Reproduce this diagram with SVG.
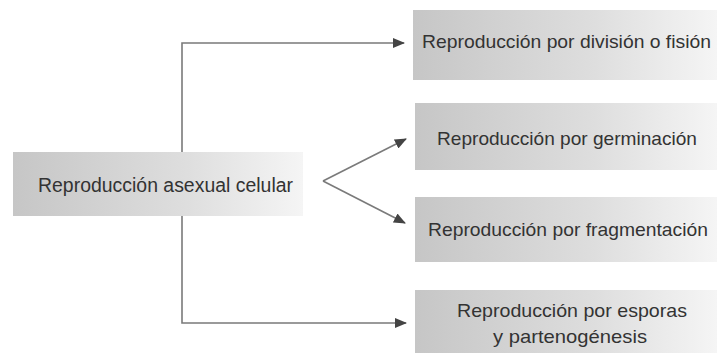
<svg xmlns="http://www.w3.org/2000/svg" width="717" height="353" viewBox="0 0 717 353">
  <defs>
    <linearGradient id="g" x1="0" y1="0" x2="1" y2="0">
      <stop offset="0" stop-color="#c6c6c6"/>
      <stop offset="0.6" stop-color="#dedede"/>
      <stop offset="1" stop-color="#f5f5f5"/>
    </linearGradient>
    <marker id="ah" viewBox="0 0 12 10" refX="11" refY="5" markerWidth="12" markerHeight="10" markerUnits="userSpaceOnUse" orient="auto">
      <path d="M0,0 L12,5 L0,10 Z" fill="#444"/>
    </marker>
  </defs>
  <style>
    .box { fill: url(#g); }
    .t { font-family: "Liberation Sans", Arial, sans-serif; font-size: 19px; fill: #333; }
    .big { font-size: 20px; }
    .c { fill: none; stroke: #7a7a7a; stroke-width: 1.6; }
  </style>
  <rect width="717" height="353" fill="#ffffff"/>
  <g id="connectors">
    <polyline class="c" points="182,152 182,43 404,43" marker-end="url(#ah)"/>
    <polyline class="c" points="182,216 182,323 406,323" marker-end="url(#ah)"/>
    <line class="c" x1="323" y1="181" x2="406" y2="139" marker-end="url(#ah)"/>
    <line class="c" x1="323" y1="181" x2="405" y2="223" marker-end="url(#ah)"/>
  </g>
  <g id="n0">
    <rect class="box" x="13" y="152" width="290" height="64"/>
    <text class="t big" x="38" y="192" textLength="255" lengthAdjust="spacingAndGlyphs">Reproducción asexual celular</text>
  </g>
  <g id="n1">
    <rect class="box" x="413" y="10" width="304" height="70"/>
    <text class="t" x="422" y="48" textLength="289" lengthAdjust="spacingAndGlyphs">Reproducción por división o fisión</text>
  </g>
  <g id="n2">
    <rect class="box" x="415" y="103" width="302" height="67"/>
    <text class="t" x="437" y="145" textLength="260" lengthAdjust="spacingAndGlyphs">Reproducción por germinación</text>
  </g>
  <g id="n3">
    <rect class="box" x="415" y="197" width="302" height="65"/>
    <text class="t" x="428" y="236" textLength="280" lengthAdjust="spacingAndGlyphs">Reproducción por fragmentación</text>
  </g>
  <g id="n4">
    <rect class="box" x="415" y="290" width="302" height="63"/>
    <text class="t" x="457" y="317" textLength="230" lengthAdjust="spacingAndGlyphs">Reproducción por esporas</text>
    <text class="t" x="493" y="343" textLength="154" lengthAdjust="spacingAndGlyphs">y partenogénesis</text>
  </g>
</svg>
